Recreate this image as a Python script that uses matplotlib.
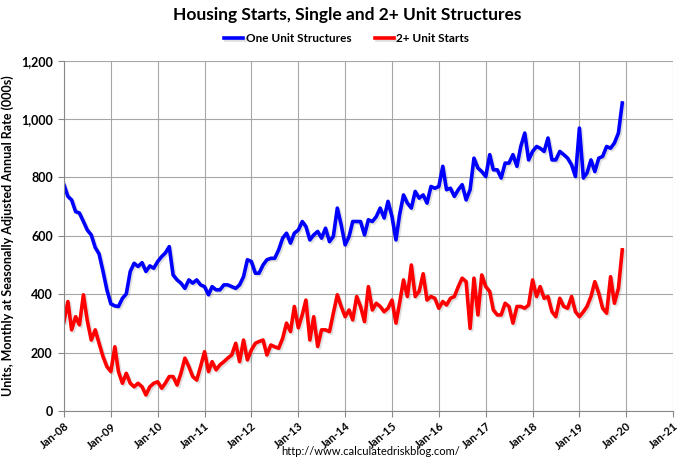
import numpy as np
import pandas as pd
import matplotlib
matplotlib.use("Agg")
from matplotlib import pyplot as plt
import matplotlib.patheffects as pe
from matplotlib.ticker import FuncFormatter
import matplotlib.dates as mdates

# monthly SAAR, thousands, Jan 2008 - Dec 2019
one_unit = [
    775, 735, 723, 683, 678, 649, 620, 603, 560, 538, 478, 415,   # 2008
    367, 360, 358, 386, 401, 478, 506, 495, 508, 478, 497, 489,   # 2009
    512, 529, 541, 563, 466, 449, 438, 420, 449, 438, 449, 432,   # 2010
    426, 398, 426, 415, 415, 432, 432, 426, 420, 432, 460, 518,   # 2011
    512, 472, 472, 500, 518, 523, 523, 552, 592, 609, 575, 609,   # 2012
    620, 649, 632, 586, 603, 615, 592, 626, 580, 598, 695, 638,   # 2013
    569, 598, 649, 649, 649, 603, 655, 649, 666, 695, 661, 718,   # 2014
    666, 586, 671, 740, 712, 695, 752, 729, 740, 712, 769, 763,   # 2015
    769, 838, 758, 763, 735, 758, 775, 723, 758, 866, 832, 820,   # 2016
    803, 878, 826, 826, 798, 849, 849, 878, 838, 906, 952, 860,   # 2017
    889, 906, 900, 889, 935, 860, 860, 889, 878, 866, 843, 803,   # 2018
    969, 798, 815, 860, 820, 866, 872, 906, 900, 918, 952, 1055,  # 2019
]
two_plus = [
    306, 375, 278, 323, 295, 398, 310, 243, 278, 232, 186, 152,   # 2008
    135, 220, 135, 95, 129, 95, 83, 95, 83, 55, 83, 95,           # 2009
    100, 78, 95, 118, 118, 89, 129, 181, 152, 118, 106, 152,      # 2010
    203, 135, 169, 141, 158, 169, 181, 192, 232, 169, 243, 175,   # 2011
    209, 232, 238, 243, 192, 226, 220, 215, 249, 301, 272, 358,   # 2012
    285, 330, 380, 243, 323, 221, 278, 278, 272, 335, 398, 358,   # 2013
    323, 346, 312, 392, 358, 306, 426, 346, 369, 358, 340, 352,   # 2014
    380, 301, 369, 449, 392, 500, 392, 410, 470, 380, 392, 386,   # 2015
    352, 375, 363, 386, 392, 426, 455, 443, 283, 455, 329, 466,   # 2016
    426, 409, 346, 329, 329, 369, 358, 301, 358, 358, 352, 363,   # 2017
    449, 392, 426, 386, 392, 340, 323, 386, 358, 352, 392, 340,   # 2018
    323, 340, 358, 392, 443, 403, 352, 335, 460, 369, 420, 552,   # 2019
]
months = pd.date_range("2008-01-01", periods=len(one_unit), freq="MS")
year_ticks = pd.date_range("2008-01-01", "2021-01-01", freq="YS")
y_ticks = [0, 200, 400, 600, 800, 1000, 1200]

plt.rcParams["font.family"] = ["Lato", "DejaVu Sans"]

fig = plt.figure(figsize=(6.8, 4.58), dpi=100)
ax = fig.add_axes([0.094, 0.1026, 0.896, 0.765])

shadow = [pe.SimpleLineShadow(offset=(1.2, -1.2), alpha=0.25, shadow_color="gray"), pe.Normal()]
ax.plot(months, one_unit, color="#0000FF", lw=2.6, label="One Unit Structures",
        path_effects=shadow, solid_joinstyle="round")
ax.plot(months, two_plus, color="#FF0000", lw=2.6, label="2+ Unit Starts",
        path_effects=shadow, solid_joinstyle="round")

ax.set_xlim(year_ticks[0], year_ticks[-1])
ax.set_ylim(0, 1200)
ax.set_xticks(year_ticks)
ax.xaxis.set_major_formatter(mdates.DateFormatter("%b-%y"))
ax.set_yticks(y_ticks)
ax.yaxis.set_major_formatter(FuncFormatter(lambda v, p: f"{int(v):,}"))
plt.setp(ax.get_xticklabels(), rotation=40, ha="right", rotation_mode="anchor",
         fontsize=8, fontweight="bold")
plt.setp(ax.get_yticklabels(), fontsize=9, fontweight="bold")
ax.tick_params(axis="both", length=4, color="#888888")
ax.tick_params(axis="y", pad=4)
ax.tick_params(axis="x", pad=3)

ax.grid(True, color="#A6A6A6", lw=0.8)
ax.set_axisbelow(True)
for s in ["top", "right"]:
    ax.spines[s].set_visible(False)
for s in ["left", "bottom"]:
    ax.spines[s].set_color("#888888")

ax.set_ylabel("Units, Monthly at Seasonally Adjusted Annual Rate (000s)",
              fontsize=9, fontweight="bold")
ax.yaxis.set_label_coords(-0.082, 0.5)

fig.text(0.51, 0.968, "Housing Starts, Single and 2+ Unit Structures",
         ha="center", va="center", fontsize=12.5, fontweight="bold")
fig.legend(loc="center", bbox_to_anchor=(0.51, 0.915), ncol=2, frameon=False,
           prop={"size": 8.5, "weight": "bold"}, handlelength=1.6,
           handletextpad=0.2, columnspacing=2.0)
fig.text(0.545, 0.015, "http://www.calculatedriskblog.com/", ha="center",
         va="center", fontsize=8)

plt.savefig("out.png", dpi=100)
